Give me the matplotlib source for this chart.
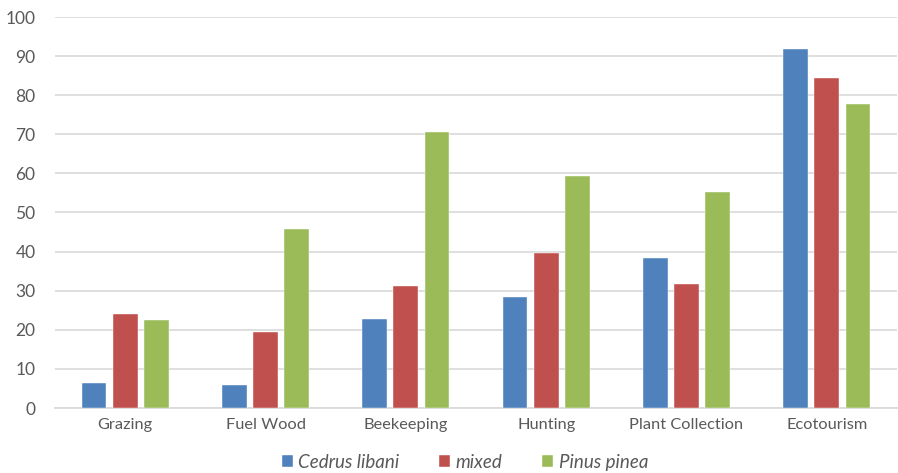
import matplotlib
matplotlib.use("Agg")
import matplotlib.pyplot as plt
import numpy as np

categories = ["Grazing", "Fuel Wood", "Beekeeping", "Hunting", "Plant Collection", "Ecotourism"]
series_names = ["Cedrus libani", "mixed", "Pinus pinea"]
cedrus = [6.5, 6.0, 22.7, 28.3, 38.4, 91.8]
mixed = [24.1, 19.5, 31.2, 39.7, 31.7, 84.5]
pinus = [22.5, 45.7, 70.5, 59.4, 55.3, 77.7]
colors = ["#4F81BD", "#C0504D", "#9BBB59"]

plt.rcParams['font.family'] = ['Lato', 'DejaVu Sans']

fig = plt.figure(figsize=(8.98, 4.73), dpi=100)
ax = fig.add_axes([55/898, 1-408/473, (897-55)/898, (408-17)/473])

x = np.arange(len(categories))
w = 0.176
step = 0.223
for i, (vals, name) in enumerate(zip([cedrus, mixed, pinus], series_names)):
    ax.bar(x + (i-1)*step, vals, width=w, color=colors[i], label=name,
           edgecolor="white", linewidth=0.3, zorder=3)

ax.set_xlim(-0.5, len(categories)-0.5)
ax.set_ylim(0, 100)
ax.set_yticks(range(0, 101, 10))
ax.yaxis.grid(True, color="#D9D9D9", linewidth=1.2, zorder=0)
ax.set_axisbelow(True)
for s in ["top", "right", "left"]:
    ax.spines[s].set_visible(False)
ax.spines["bottom"].set_color("#D9D9D9")
ax.spines["bottom"].set_linewidth(1.2)
ax.tick_params(axis="both", length=0, colors="#595959")
ax.tick_params(axis="y", pad=14, labelsize=12.5)
ax.tick_params(axis="x", pad=7, labelsize=11.8)
ax.set_xticks(x)
ax.set_xticklabels(categories)

leg = fig.legend(loc="center", bbox_to_anchor=(465/898, 1-462/473), ncol=3, frameon=False,
                 prop={"style": "italic", "size": 13.5}, handlelength=0.6, handleheight=0.6,
                 columnspacing=2.1, handletextpad=0.3)
for t in leg.get_texts():
    t.set_color("#595959")

fig.savefig("out.png", dpi=100)
